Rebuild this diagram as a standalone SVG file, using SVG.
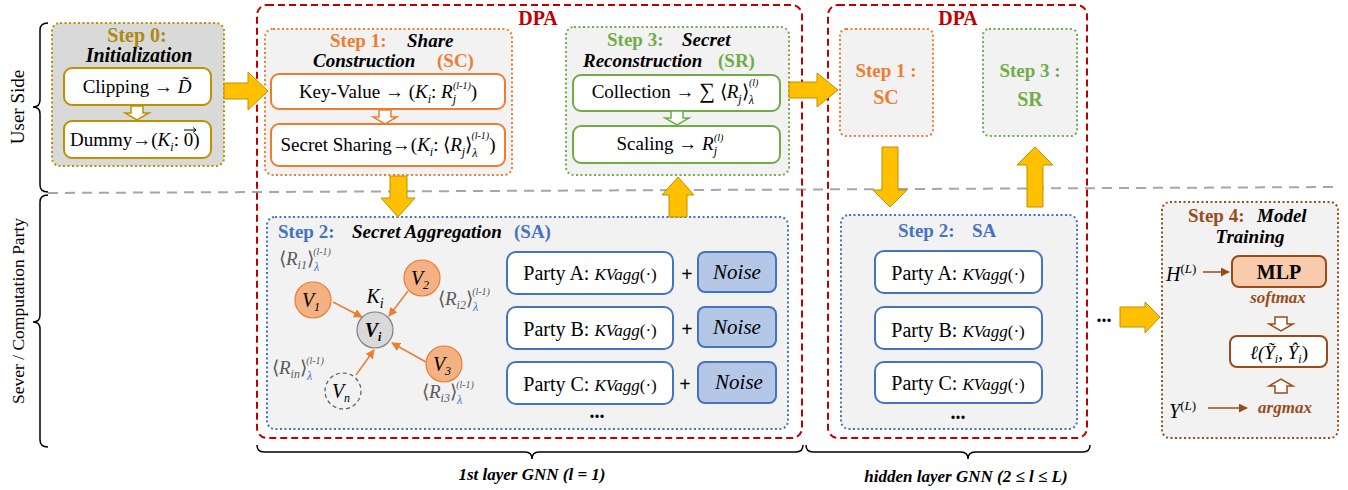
<svg xmlns="http://www.w3.org/2000/svg" width="1348" height="490" viewBox="0 0 1348 490" font-family="Liberation Serif, Times New Roman, serif">
<defs>
<style>
text{fill:#000}
.f19{font-size:19px}.f20{font-size:20px}.f17{font-size:17px}
.b{font-weight:bold}.i{font-style:italic}
.sub{font-size:12px;font-style:italic}.sup{font-size:10px;font-style:italic}
.gold{fill:#ad8a12}.org{fill:#ed7d31}.grn{fill:#70ad47}.blu{fill:#4472c4}.red{fill:#c00000}.brn{fill:#994c1a}.gry{fill:#595959}
.step{fill:#f2f2f2;stroke-width:2;stroke-dasharray:2 2.5}
.dpa{fill:none;stroke:#c00000;stroke-width:2;stroke-dasharray:7 4}
.ib{fill:#fff;stroke-width:2}
.ya{fill:#ffc000;stroke:#bf9000;stroke-width:1}
.ha{fill:#fff;stroke-width:1.5}
.br{fill:none;stroke:#000;stroke-width:1.5}
.ol{stroke:#ed7d31;stroke-width:1.5;fill:none}
</style>
<marker id="ao" viewBox="0 0 10 10" refX="9" refY="5" markerWidth="6" markerHeight="6" orient="auto"><path d="M0,0 L10,5 L0,10 Z" fill="#ed7d31"/></marker>
<marker id="ab" viewBox="0 0 10 10" refX="9" refY="5" markerWidth="6" markerHeight="6" orient="auto"><path d="M0,0 L10,5 L0,10 Z" fill="#994c1a"/></marker>
<path id="hdown" d="M-6,0 H6 V7 H12 L0,14 L-12,7 H-6 Z"/>
<path id="hup" d="M-6,14 H6 V7 H12 L0,0 L-12,7 H-6 Z"/>
</defs>

<g id="sides">
<line x1="48" y1="193" x2="1340" y2="187" stroke="#a6a6a6" stroke-width="2" stroke-dasharray="10 7"/>
<path class="br" d="M48,23 Q40,23 40,30 V100 Q40,107 33,107 Q40,107 40,114 V185 Q40,192 48,192"/>
<path class="br" d="M48,195 Q40,195 40,202 V315 Q40,322 33,322 Q40,322 40,329 V440 Q40,447 48,447"/>
<text class="f19" transform="translate(24,107) rotate(-90)" text-anchor="middle">User  Side</text>
<text font-size="17.5" transform="translate(24,311) rotate(-90)" text-anchor="middle">Sever / Computation Party</text>
<path class="br" d="M257,445 Q257,452 264,452 H525 Q532,452 532,459 Q532,452 539,452 H796 Q803,452 803,445"/>
<path class="br" d="M806,445 Q806,452 813,452 H961 Q968,452 968,459 Q968,452 975,452 H1083 Q1090,452 1090,445"/>
<text class="f17 b i" x="532" y="480" text-anchor="middle">1st layer GNN (<tspan>l</tspan> = 1)</text>
<text class="f17 b i" x="966" y="482" text-anchor="middle">hidden layer GNN (2 ≤ <tspan>l</tspan> ≤ <tspan>L</tspan>)</text>
</g>

<g id="dpa1">
<rect class="dpa" x="257" y="5" width="545" height="433" rx="10"/>
<text class="f20 b red" x="538" y="25" text-anchor="middle">DPA</text>
</g>
<g id="dpa2">
<rect class="dpa" x="828" y="5" width="259" height="433" rx="10"/>
<text class="f20 b red" x="958" y="25" text-anchor="middle">DPA</text>
</g>

<g id="step0">
<rect class="step" x="52" y="23" width="172" height="143" rx="8" style="fill:#d9d9d9" stroke="#bf9000"/>
<text class="f20 b gold" x="137" y="42" text-anchor="middle">Step 0:</text>
<text class="f20 b i" x="139" y="62" text-anchor="middle">Initialization</text>
<rect class="ib" x="64" y="68" width="147" height="37" rx="8" stroke="#bf9000"/>
<text class="f19" x="137" y="93" text-anchor="middle">Clipping <tspan class="b">→</tspan> <tspan class="i">D̃</tspan></text>
<use href="#hdown" x="137" y="106" class="ha" stroke="#bf9000"/>
<rect class="ib" x="64" y="121" width="147" height="37" rx="8" stroke="#bf9000"/>
<text class="f19" x="70" y="146">Dummy<tspan class="b">→</tspan>(<tspan class="i">K</tspan><tspan class="sub" dy="5">i</tspan><tspan dy="-5">: 0)</tspan></text>
<path d="M184,130 H196 M193,127.5 L196,130 L193,132.5" fill="none" stroke="#000" stroke-width="1"/>
</g>

<g id="step1">
<rect class="step" x="265" y="29" width="247" height="146" rx="8" stroke="#ed7d31"/>
<text class="f19 b org" x="330" y="47">Step 1:</text>
<text class="f19 b i" x="407" y="47">Share</text>
<text class="f19 b i" x="313" y="67">Construction</text>
<text class="f19 b org" x="437" y="67">(SC)</text>
<rect class="ib" x="271" y="74" width="234" height="35" rx="8" stroke="#ed7d31"/>
<text class="f19" x="388" y="98" text-anchor="middle">Key-Value <tspan class="b">→</tspan>  (<tspan class="i">K</tspan><tspan class="sub" dy="5">i</tspan><tspan dy="-5">: </tspan><tspan class="i">R</tspan><tspan class="sub" dy="5">j</tspan><tspan class="sup" dx="-3" dy="-14">(l-1)</tspan><tspan dy="9">)</tspan></text>
<use href="#hdown" x="385" y="110" class="ha" stroke="#ed7d31"/>
<rect class="ib" x="271" y="124" width="234" height="42" rx="8" stroke="#ed7d31"/>
<text class="f19" x="388" y="151" text-anchor="middle">Secret Sharing<tspan class="b">→</tspan>(<tspan class="i">K</tspan><tspan class="sub" dy="5">i</tspan><tspan dy="-5">: ⟨</tspan><tspan class="i">R</tspan><tspan class="sub" dy="5">j</tspan><tspan dy="-5">⟩</tspan><tspan class="sub" dy="6">λ</tspan><tspan class="sup" dx="-6" dy="-18">(l-1)</tspan><tspan dy="12">)</tspan></text>
</g>

<g id="step3">
<rect class="step" x="566" y="27" width="223" height="148" rx="8" stroke="#70ad47"/>
<text class="f19 b grn" x="607" y="46">Step 3:</text>
<text class="f19 b i" x="682" y="46">Secret</text>
<text class="f19 b i" x="583" y="67">Reconstruction</text>
<text class="f19 b grn" x="718" y="67">(SR)</text>
<rect class="ib" x="573" y="75" width="207" height="36" rx="8" stroke="#70ad47"/>
<text class="f19" x="675" y="98" text-anchor="middle">Collection <tspan class="b">→</tspan> <tspan font-size="22">∑</tspan> ⟨<tspan class="i">R</tspan><tspan class="sub" dy="5">j</tspan><tspan dy="-5">⟩</tspan><tspan class="sub" dy="6">λ</tspan><tspan class="sup" dx="-5" dy="-18">(l)</tspan></text>
<use href="#hdown" x="677" y="111" class="ha" stroke="#70ad47"/>
<rect class="ib" x="573" y="126" width="207" height="37" rx="8" stroke="#70ad47"/>
<text class="f19" x="670" y="150" text-anchor="middle">Scaling  <tspan class="b">→</tspan>   <tspan class="i">R</tspan><tspan class="sub" dy="5">j</tspan><tspan class="sup" dx="-3" dy="-14">(l)</tspan></text>
</g>

<g id="step2">
<rect class="step" x="267" y="217" width="521" height="212" rx="8" stroke="#4472c4"/>
<text class="f19 b blu" x="278" y="238">Step 2:</text>
<text class="f19 b i" x="352" y="238">Secret Aggregation</text>
<text class="f19 b blu" x="514" y="238">(SA)</text>
</g>

<g id="graph">
<g class="ol">
<line x1="333" y1="302" x2="362" y2="317" marker-end="url(#ao)"/>
<line x1="408" y1="291" x2="389" y2="316" marker-end="url(#ao)"/>
<line x1="426" y1="362" x2="392" y2="343" marker-end="url(#ao)"/>
<line x1="356" y1="375" x2="374" y2="350" marker-end="url(#ao)"/>
</g>
<g id="v1"><circle cx="313" cy="300" r="18" fill="#f4b183" stroke="#ed7d31" stroke-width="1.2"/><text class="f20 i" x="311" y="307" text-anchor="middle">V<tspan font-size="12" dy="4">1</tspan></text></g>
<g id="v2"><circle cx="422" cy="278" r="18" fill="#f4b183" stroke="#ed7d31" stroke-width="1.2"/><text class="f20 i" x="420" y="285" text-anchor="middle">V<tspan font-size="12" dy="4">2</tspan></text></g>
<g id="vi"><circle cx="375" cy="330" r="18" fill="#d9d9d9" stroke="#7f7f7f" stroke-width="1.2"/><text class="f20 i b" x="373" y="337" text-anchor="middle">V<tspan font-size="12" dy="4">i</tspan></text></g>
<g id="v3"><circle cx="444" cy="364" r="18" fill="#f4b183" stroke="#ed7d31" stroke-width="1.2"/><text class="f20 i" x="442" y="371" text-anchor="middle">V<tspan font-size="12" dy="4">3</tspan></text></g>
<g id="vn"><circle cx="343" cy="391" r="18" fill="none" stroke="#595959" stroke-width="1.2" stroke-dasharray="4 3"/><text class="f20 i" x="341" y="398" text-anchor="middle">V<tspan font-size="12" dy="4">n</tspan></text></g>
<text class="f20 i" x="375" y="303" text-anchor="middle">K<tspan font-size="14" dy="5">i</tspan></text>
<text class="f19 gry" x="279" y="265">⟨<tspan class="i">R</tspan><tspan class="sub" dy="4">i1</tspan><tspan dy="-4">⟩</tspan><tspan class="sub blu" dy="6">λ</tspan><tspan class="sup" dx="-6" dy="-16">(l-1)</tspan></text>
<text class="f19 gry" x="438" y="305">⟨<tspan class="i">R</tspan><tspan class="sub" dy="4">i2</tspan><tspan dy="-4">⟩</tspan><tspan class="sub blu" dy="6">λ</tspan><tspan class="sup" dx="-6" dy="-16">(l-1)</tspan></text>
<text class="f19 gry" x="272" y="374">⟨<tspan class="i">R</tspan><tspan class="sub" dy="4">in</tspan><tspan dy="-4">⟩</tspan><tspan class="sub blu" dy="6">λ</tspan><tspan class="sup" dx="-6" dy="-16">(l-1)</tspan></text>
<text class="f19 gry" x="422" y="398">⟨<tspan class="i">R</tspan><tspan class="sub" dy="4">i3</tspan><tspan dy="-4">⟩</tspan><tspan class="sub blu" dy="6">λ</tspan><tspan class="sup" dx="-6" dy="-16">(l-1)</tspan></text>
</g>

<g id="parties1">
<rect class="ib" x="507" y="252" width="166" height="42" rx="9" stroke="#4472c4"/>
<text class="f20" x="590" y="280" text-anchor="middle">Party A: <tspan class="i" font-size="17">KVagg</tspan><tspan font-size="17">(·)</tspan></text>
<rect class="ib" x="507" y="307" width="166" height="42" rx="9" stroke="#4472c4"/>
<text class="f20" x="590" y="336" text-anchor="middle">Party B: <tspan class="i" font-size="17">KVagg</tspan><tspan font-size="17">(·)</tspan></text>
<rect class="ib" x="507" y="362" width="166" height="42" rx="9" stroke="#4472c4"/>
<text class="f20" x="590" y="391" text-anchor="middle">Party C: <tspan class="i" font-size="17">KVagg</tspan><tspan font-size="17">(·)</tspan></text>
<text class="f20 b" x="597" y="418" text-anchor="middle">...</text>
<text class="f20 b" x="687" y="281" text-anchor="middle">+</text>
<text class="f20 b" x="687" y="336" text-anchor="middle">+</text>
<text class="f20 b" x="685" y="391" text-anchor="middle">+</text>
<rect x="698" y="252" width="78" height="40" rx="7" fill="#b4c7e7" stroke="#4472c4" stroke-width="2"/>
<text class="i" font-size="21" x="737" y="279" text-anchor="middle">Noise</text>
<rect x="698" y="307" width="78" height="40" rx="7" fill="#b4c7e7" stroke="#4472c4" stroke-width="2"/>
<text class="i" font-size="21" x="737" y="334" text-anchor="middle">Noise</text>
<rect x="698" y="362" width="78" height="41" rx="7" fill="#b4c7e7" stroke="#4472c4" stroke-width="2"/>
<text class="i" font-size="21" x="739" y="389" text-anchor="middle">Noise</text>
</g>

<g id="step1b">
<rect class="step" x="840" y="29" width="93" height="107" rx="6" stroke="#ed7d31"/>
<text class="f19 b org" x="886" y="77" text-anchor="middle">Step 1 :</text>
<text class="f20 b org" x="886" y="104" text-anchor="middle">SC</text>
</g>
<g id="step3b">
<rect class="step" x="983" y="29" width="94" height="107" rx="6" stroke="#70ad47"/>
<text class="f19 b grn" x="1030" y="77" text-anchor="middle">Step 3 :</text>
<text class="f20 b grn" x="1030" y="106" text-anchor="middle">SR</text>
</g>
<g id="step2b">
<rect class="step" x="841" y="215" width="236" height="214" rx="8" stroke="#4472c4"/>
<text class="f19 b blu" x="898" y="237">Step 2:</text>
<text class="f19 b blu" x="972" y="237">SA</text>
<rect class="ib" x="875" y="251" width="167" height="42" rx="9" stroke="#4472c4"/>
<text class="f20" x="958" y="280" text-anchor="middle">Party A: <tspan class="i" font-size="17">KVagg</tspan><tspan font-size="17">(·)</tspan></text>
<rect class="ib" x="875" y="307" width="167" height="42" rx="9" stroke="#4472c4"/>
<text class="f20" x="958" y="337" text-anchor="middle">Party B: <tspan class="i" font-size="17">KVagg</tspan><tspan font-size="17">(·)</tspan></text>
<rect class="ib" x="875" y="362" width="167" height="41" rx="9" stroke="#4472c4"/>
<text class="f20" x="958" y="390" text-anchor="middle">Party C: <tspan class="i" font-size="17">KVagg</tspan><tspan font-size="17">(·)</tspan></text>
<text class="f20 b" x="958" y="419" text-anchor="middle">...</text>
</g>

<text class="f20 b" x="1104" y="322" text-anchor="middle">...</text>

<g id="step4">
<rect class="step" x="1162" y="202" width="176" height="236" rx="8" stroke="#994c1a"/>
<text class="f19 b brn" x="1188" y="222">Step 4:</text>
<text class="f19 b i" x="1257" y="222">Model</text>
<text class="f19 b i" x="1250" y="243" text-anchor="middle">Training</text>
<rect x="1232" y="256" width="94" height="31" rx="7" fill="#f8cbad" stroke="#994c1a" stroke-width="2"/>
<text class="f20 b" x="1279" y="279" text-anchor="middle">MLP</text>
<text class="f20 i" x="1166" y="281">H<tspan font-size="13" font-style="normal" dy="-8">(</tspan><tspan font-size="13">L</tspan><tspan font-size="13" font-style="normal">)</tspan></text>
<line x1="1203" y1="272" x2="1229" y2="272" stroke="#994c1a" stroke-width="1.5" marker-end="url(#ab)"/>
<text class="f17 b i brn" x="1278" y="303" text-anchor="middle">softmax</text>
<use href="#hdown" x="1281" y="317" class="ha" stroke="#994c1a"/>
<rect class="ib" x="1230" y="336" width="97" height="31" rx="7" stroke="#994c1a"/>
<text class="f19 i" x="1279" y="359" text-anchor="middle">ℓ(Ỹ<tspan class="sub" dy="4">i</tspan><tspan dy="-4">, Ŷ</tspan><tspan class="sub" dy="4">i</tspan><tspan dy="-4" font-style="normal">)</tspan></text>
<use href="#hup" x="1281" y="379" class="ha" stroke="#994c1a"/>
<text class="f20 i" x="1169" y="418">Y<tspan font-size="13" font-style="normal" dy="-8">(</tspan><tspan font-size="13">L</tspan><tspan font-size="13" font-style="normal">)</tspan></text>
<line x1="1208" y1="408" x2="1247" y2="408" stroke="#994c1a" stroke-width="1.5" marker-end="url(#ab)"/>
<text class="f17 b i brn" x="1285" y="413" text-anchor="middle">argmax</text>
</g>

<g id="connectors">
<path class="ya" d="M224,83 H248 V72 L268,91 L248,110 V99 H224 Z"/>
<path class="ya" d="M789,82 H817 V73 L838,90 L817,107 V98 H789 Z"/>
<path class="ya" d="M390,176 H407 V198 H415 L398,217 L381,198 H390 Z"/>
<path class="ya" d="M669,217 V195 H662 L678,177 L694,195 H687 V217 Z"/>
<path class="ya" d="M882,147 H898 V190 H907 L890,207 L873,190 H882 Z"/>
<path class="ya" d="M1027,207 V165 H1017 L1035,147 L1053,165 H1043 V207 Z"/>
<path class="ya" d="M1120,307 H1145 V302 L1160,317 L1145,333 V327 H1120 Z"/>
</g>
</svg>
